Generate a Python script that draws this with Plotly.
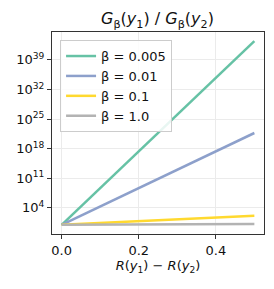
import plotly.graph_objects as go

# Data (ratio at R-difference endpoints)
x_vals = [0.0, 0.5]
series_names = ["β = 0.005", "β = 0.01", "β = 0.1", "β = 1.0"]
ratio_b0005 = [1.0, 2.7e43]
ratio_b001 = [1.0, 5.2e21]
ratio_b01 = [1.0, 148.0]
ratio_b1 = [1.0, 1.65]
colors = ["#66c2a5", "#8da0cb", "#ffd92f", "#b3b3b3"]

y_tick_exps = [4, 11, 18, 25, 32, 39]
x_tick_vals = [0.0, 0.2, 0.4]
x_tick_text = ["0.0", "0.2", "0.4"]

FONT = "DejaVu Sans"

# page body has an 8px default margin; figure is sized/offset to compensate
fig = go.Figure()
for name, ys, c in zip(series_names, [ratio_b0005, ratio_b001, ratio_b01, ratio_b1], colors):
    fig.add_trace(go.Scatter(x=x_vals, y=ys, mode="lines", name=name,
                             line=dict(color=c, width=2.5)))

fig.update_layout(
    width=266, height=281,
    margin=dict(l=44, r=10, t=24, b=55, autoexpand=False),
    paper_bgcolor="white", plot_bgcolor="white",
    font=dict(family=FONT, size=13, color="#111"),
    title=dict(text="<i>G</i><sub>β</sub>(<i>y</i><sub>1</sub>) / <i>G</i><sub>β</sub>(<i>y</i><sub>2</sub>)",
               x=0.562, xanchor="center", y=0.962, yanchor="middle",
               font=dict(family=FONT, size=16, color="#111")),
    legend=dict(x=0.038, y=0.96, xanchor="left", yanchor="top",
                bgcolor="rgba(255,255,255,0.85)", bordercolor="#cccccc", borderwidth=1,
                font=dict(family=FONT, size=13, color="#111"),
                tracegroupgap=0, itemwidth=30),
    showlegend=True,
)
fig.update_xaxes(
    range=[-0.025, 0.525], tickvals=x_tick_vals, ticktext=x_tick_text,
    showgrid=True, gridcolor="#ebebeb", gridwidth=1, zeroline=False,
    showline=True, linecolor="#333", linewidth=1.2, mirror=True,
    ticks="outside", ticklen=4, tickcolor="#333", automargin=False,
    tickfont=dict(family=FONT, size=13),
    title=dict(text="<i>R</i>(<i>y</i><sub>1</sub>) − <i>R</i>(<i>y</i><sub>2</sub>)",
               font=dict(family=FONT, size=13), standoff=4),
)
fig.update_yaxes(
    type="log", range=[-2.17, 45.6],
    tickvals=[float(10.0 ** e) for e in y_tick_exps],
    ticktext=["10<sup>%d</sup>" % e for e in y_tick_exps],
    showgrid=True, gridcolor="#ebebeb", gridwidth=1, zeroline=False,
    showline=True, linecolor="#333", linewidth=1.2, mirror=True,
    ticks="outside", ticklen=4, tickcolor="#333", automargin=False,
    tickfont=dict(family=FONT, size=13),
)

fig.write_html("out.html")
